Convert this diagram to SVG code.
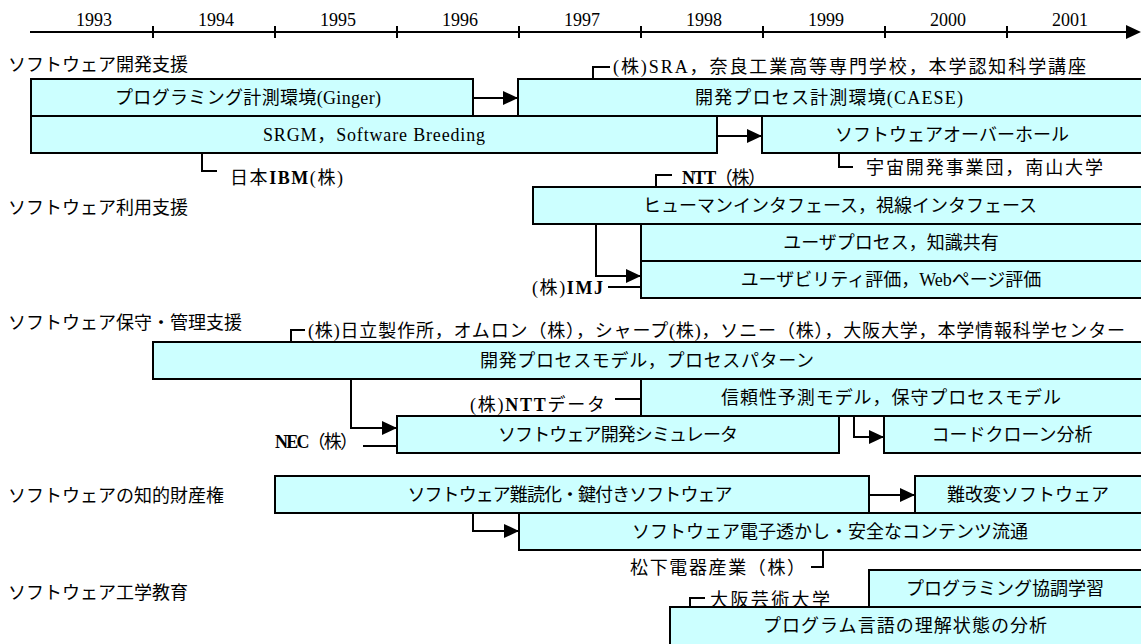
<svg xmlns="http://www.w3.org/2000/svg" width="1141" height="644" viewBox="0 0 1141 644">
<defs>
<marker id="ah" markerUnits="userSpaceOnUse" markerWidth="15" markerHeight="14" refX="15" refY="7" orient="auto">
<path d="M0,0 L15,7 L0,14 Z" fill="#000"/>
</marker>
<style>
.bg{fill:#fff}
.box{fill:#ccffff;stroke:#000;stroke-width:2}
.ln{fill:none;stroke:#000;stroke-width:2}
.t{font-family:"Liberation Serif","Noto Sans CJK JP",serif;font-size:18px;fill:#000}
.c{text-anchor:middle}
.b{font-weight:bold}
.h{font-family:"Noto Sans CJK JP","Liberation Sans",sans-serif;font-size:18px;fill:#000}
</style>
</defs>
<rect class="bg" x="0" y="0" width="1141" height="644"/>

<g id="timeline">
<line class="ln" x1="30" y1="32" x2="1128" y2="32"/>
<polygon points="1126,25 1141,32 1126,39" fill="#000"/>
<path class="ln" d="M153,26V38M275,26V38M397,26V38M519,26V38M641,26V38M763,26V38M885,26V38M1007,26V38"/>
<text class="t c" x="94" y="26">1993</text>
<text class="t c" x="216" y="26">1994</text>
<text class="t c" x="338" y="26">1995</text>
<text class="t c" x="460" y="26">1996</text>
<text class="t c" x="582" y="26">1997</text>
<text class="t c" x="704" y="26">1998</text>
<text class="t c" x="826" y="26">1999</text>
<text class="t c" x="948" y="26">2000</text>
<text class="t c" x="1070" y="26">2001</text>
</g>

<g id="headers">
<text class="h" x="8" y="71">ソフトウェア開発支援</text>
<text class="h" x="8" y="214">ソフトウェア利用支援</text>
<text class="h" x="8" y="329">ソフトウェア保守・管理支援</text>
<text class="h" x="8" y="502">ソフトウェアの知的財産権</text>
<text class="h" x="8" y="599">ソフトウェア工学教育</text>
</g>

<g id="connectors">
<line class="ln" x1="473" y1="98" x2="518" y2="98" marker-end="url(#ah)"/>
<line class="ln" x1="717" y1="136" x2="762" y2="136" marker-end="url(#ah)"/>
<polyline class="ln" points="593,79 593,67 610,67"/>
<polyline class="ln" points="202,153 202,171 217,171"/>
<polyline class="ln" points="839,153 839,167 853,167"/>
<polyline class="ln" points="656,187 656,175 672,175"/>
<polyline class="ln" points="596,224 596,276 641,276" marker-end="url(#ah)"/>
<line class="ln" x1="608" y1="287" x2="641" y2="287"/>
<polyline class="ln" points="291,342 291,330 305,330"/>
<polyline class="ln" points="351,379 351,428 397,428" marker-end="url(#ah)"/>
<line class="ln" x1="615" y1="399" x2="641" y2="399"/>
<line class="ln" x1="363" y1="446" x2="397" y2="446"/>
<polyline class="ln" points="854,416 854,437 884,437" marker-end="url(#ah)"/>
<line class="ln" x1="869" y1="495" x2="915" y2="495" marker-end="url(#ah)"/>
<polyline class="ln" points="473,513 473,531 519,531" marker-end="url(#ah)"/>
<polyline class="ln" points="811,567 823,567 823,550"/>
<polyline class="ln" points="690,607 690,598 705,598"/>
</g>

<g id="n-ginger">
<rect class="box" x="31" y="79" width="442" height="37"/>
<text class="t c" x="248" y="104" textLength="266">プログラミング計測環境(Ginger)</text>
</g>
<g id="n-caese">
<rect class="box" x="518" y="79" width="630" height="37"/>
<text class="t c" x="829" y="104" textLength="268">開発プロセス計測環境(CAESE)</text>
</g>
<g id="n-srgm">
<rect class="box" x="31" y="116" width="686" height="37"/>
<text class="t c" x="374" y="141" textLength="222">SRGM，Software Breeding</text>
</g>
<g id="n-overhaul">
<rect class="box" x="762" y="116" width="386" height="37"/>
<text class="t c" x="952" y="141">ソフトウェアオーバーホール</text>
</g>
<g id="l-sra"><text class="t" x="613" y="73" textLength="473">(株)SRA，奈良工業高等専門学校，本学認知科学講座</text></g>
<g id="l-ibm"><text class="t" x="230" y="184" textLength="113">日本<tspan class="b">IBM</tspan>(株)</text></g>
<g id="l-nasda"><text class="t" x="866" y="174" textLength="237">宇宙開発事業団，南山大学</text></g>

<g id="l-ntt"><text class="t" x="682" y="184" textLength="84"><tspan class="b">NTT</tspan>（株）</text></g>
<g id="n-hci">
<rect class="box" x="533" y="187" width="615" height="37"/>
<text class="t c" x="840" y="212">ヒューマンインタフェース，視線インタフェース</text>
</g>
<g id="n-userprocess">
<rect class="box" x="641" y="224" width="507" height="37"/>
<text class="t c" x="891" y="249">ユーザプロセス，知識共有</text>
</g>
<g id="n-usability">
<rect class="box" x="641" y="261" width="507" height="37"/>
<text class="t c" x="891" y="286">ユーザビリティ評価，Webページ評価</text>
</g>
<g id="l-imj"><text class="t" x="532" y="294" textLength="71">(株)<tspan class="b">IMJ</tspan></text></g>

<g id="l-hitachi"><text class="t" x="308" y="337" textLength="817">(株)日立製作所，オムロン（株），シャープ(株)，ソニー（株），大阪大学，本学情報科学センター</text></g>
<g id="n-processmodel">
<rect class="box" x="153" y="342" width="995" height="37"/>
<text class="t c" x="647" y="367" textLength="334">開発プロセスモデル，プロセスパターン</text>
</g>
<g id="n-reliability">
<rect class="box" x="641" y="379" width="507" height="37"/>
<text class="t c" x="891" y="404" textLength="340">信頼性予測モデル，保守プロセスモデル</text>
</g>
<g id="l-nttdata"><text class="t" x="470" y="411" textLength="135">(株)<tspan class="b">NTT</tspan>データ</text></g>
<g id="n-simulator">
<rect class="box" x="397" y="416" width="442" height="37"/>
<text class="t c" x="618" y="441" textLength="240">ソフトウェア開発シミュレータ</text>
</g>
<g id="n-codeclone">
<rect class="box" x="884" y="416" width="264" height="37"/>
<text class="t c" x="1012" y="441">コードクローン分析</text>
</g>
<g id="l-nec"><text class="t" x="275" y="448" textLength="83"><tspan class="b">NEC</tspan>（株）</text></g>

<g id="n-obfuscation">
<rect class="box" x="275" y="476" width="594" height="37"/>
<text class="t c" x="570" y="501" textLength="325">ソフトウェア難読化・鍵付きソフトウェア</text>
</g>
<g id="n-tamper">
<rect class="box" x="915" y="476" width="233" height="37"/>
<text class="t c" x="1028" y="501">難改変ソフトウェア</text>
</g>
<g id="n-watermark">
<rect class="box" x="519" y="513" width="629" height="37"/>
<text class="t c" x="830" y="538">ソフトウェア電子透かし・安全なコンテンツ流通</text>
</g>
<g id="l-matsushita"><text class="t" x="630" y="574" textLength="175">松下電器産業（株）</text></g>

<g id="n-collab">
<rect class="box" x="869" y="570" width="279" height="37"/>
<text class="t c" x="1005" y="595">プログラミング協調学習</text>
</g>
<g id="l-osaka"><text class="t" x="710" y="606" textLength="120">大阪芸術大学</text></g>
<g id="n-comprehension">
<rect class="box" x="670" y="607" width="478" height="45"/>
<text class="t c" x="905" y="632" textLength="284">プログラム言語の理解状態の分析</text>
</g>
</svg>
